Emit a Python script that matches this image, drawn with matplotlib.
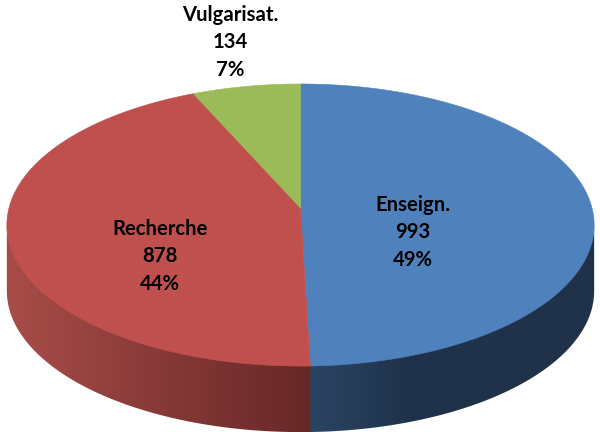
import numpy as np
import matplotlib
matplotlib.use("Agg")
import matplotlib.pyplot as plt
from matplotlib.patches import Polygon

categories = ["Enseign.", "Recherche", "Vulgarisat."]
values = [993, 878, 134]
percent_labels = [49, 44, 7]
top_colors = ["#4F81BD", "#C0504D", "#9BBB59"]
label_pos = [(413, 232.5), (160, 256.5), (230, 42.5)]

# Projection of the disc into the picture (pixel units)
CX, CY, A, B, P, DEPTH = 300.5, 208.0, 291.5, 139.0, 0.1207, 66.0

# Wall shading: colour stops along x for each slice
wall_stops = [
    ([312, 410], [(43, 68, 100), (31, 50, 74)]),
    ([10, 312], [(168, 76, 72), (102, 39, 39)]),
    ([190, 300], [(110, 135, 65), (110, 135, 65)]),
]


def project(theta):
    u, v = np.sin(theta), np.cos(theta)
    w = 1 + P * v
    return CX + A * u / w, CY - B * v / w


fig = plt.figure(figsize=(6.0, 4.32), dpi=100)
ax = fig.add_axes([0, 0, 1, 1])
ax.set_xlim(0, 600)
ax.set_ylim(432, 0)
ax.axis("off")

edges = np.concatenate([[0], np.cumsum(values)]) / np.sum(values) * 2 * np.pi
xgrid = np.arange(0, 601)

# The front of the disc runs between its rightmost and leftmost points
sweep = np.linspace(0, 2 * np.pi, 4000)
sweep_x = project(sweep)[0]
front_start, front_end = sweep[np.argmax(sweep_x)], sweep[np.argmin(sweep_x)]

# Side walls: a horizontal gradient clipped to the wall outline
for i in range(len(values)):
    t0 = max(edges[i], front_start)
    t1 = min(edges[i + 1] + 0.006, front_end)   # small overlap hides the seam
    if t1 <= t0:
        continue
    th = np.linspace(t0, t1, 400)
    x, y = project(th)
    outline = np.column_stack([np.r_[x, x[::-1]], np.r_[y - 2, y[::-1] + DEPTH]])
    clip = Polygon(outline, closed=True, transform=ax.transData,
                   facecolor="none", edgecolor="none")
    ax.add_patch(clip)
    (x0, x1), (c0, c1) = wall_stops[i]
    t = np.clip((xgrid - x0) / (x1 - x0), 0, 1)[None, :, None]
    img = (np.array(c0) + (np.array(c1) - np.array(c0)) * t) / 255
    im = ax.imshow(img, extent=(0, 600, 432, 0), aspect="auto",
                   interpolation="bilinear", zorder=2 + 0.1 * i)
    im.set_clip_path(clip)

# Top faces
for i in range(len(values)):
    th = np.linspace(edges[i], edges[i + 1], 400)
    x, y = project(th)
    pts = np.column_stack([np.r_[CX, x], np.r_[CY, y]])
    ax.add_patch(Polygon(pts, closed=True, facecolor=top_colors[i],
                         edgecolor=top_colors[i], linewidth=0.4, zorder=3))

# Labels
for cat, val, pct, (lx, ly) in zip(categories, values, percent_labels, label_pos):
    ax.text(lx, ly, f"{cat}\n{val}\n{pct}%", ha="center", va="center",
            family="Lato", fontweight="bold", fontsize=14.6, color="black",
            linespacing=1.46, zorder=4)

ax.set_xlim(0, 600)
ax.set_ylim(432, 0)
fig.savefig("out.png", dpi=100)
